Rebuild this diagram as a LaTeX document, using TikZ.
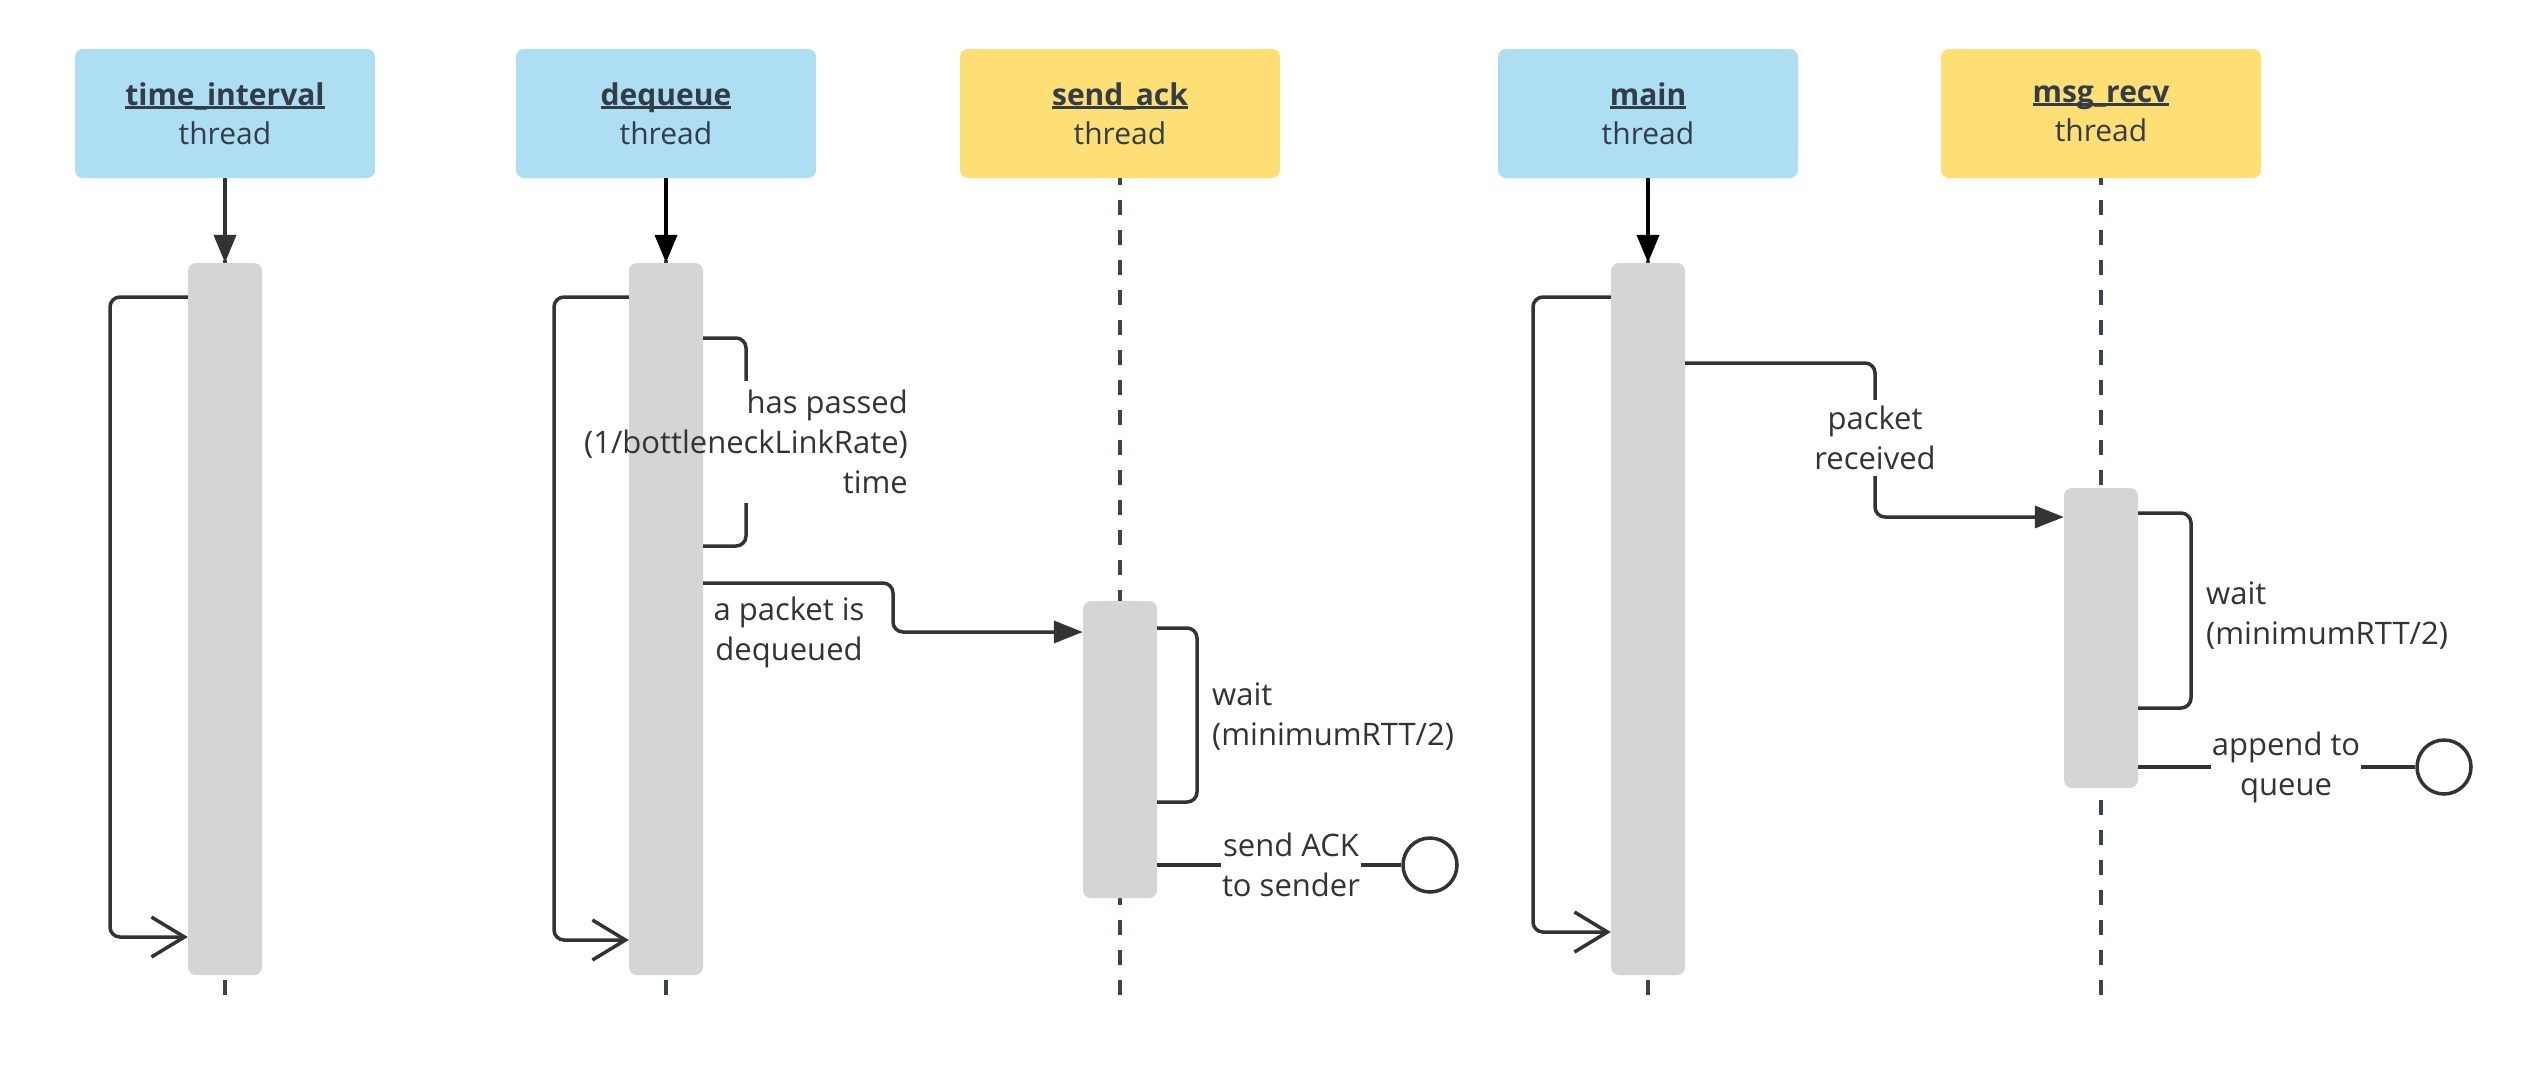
\documentclass[tikz,border=0pt]{standalone}
\usepackage{fontspec}
\setmainfont{Open Sans}
\usetikzlibrary{arrows.meta}
\definecolor{hblue}{HTML}{ADDEF2}
\definecolor{hyellow}{HTML}{FEDF76}
\definecolor{bargray}{HTML}{D5D5D5}
\definecolor{ink}{HTML}{333333}
\definecolor{hdrink}{HTML}{333D47}
\definecolor{lifeink}{HTML}{3A4451}
\newcommand\hul[1]{\setbox0=\hbox{#1}\rlap{\rule[-3.5pt]{\wd0}{2.4pt}}\box0}
\newcommand\hdrfont{\fontsize{30pt}{39pt}\selectfont}
\newcommand\lblfont{\fontsize{31pt}{40pt}\selectfont}
\begin{document}
\begin{tikzpicture}[x=1pt, y=-1pt,
  hdr/.style={rectangle, rounded corners=8pt, minimum height=129pt, align=center, text=hdrink, font=\hdrfont, inner sep=0pt},
  hdrblue/.style={hdr, fill=hblue, minimum width=300pt},
  hdryel/.style={hdr, fill=hyellow, minimum width=320pt},
  actbar/.style={rectangle, fill=bargray, rounded corners=8pt, minimum width=74pt, inner sep=0pt},
  life/.style={draw=lifeink, line width=4pt, dash pattern=on 15pt off 15pt, dash phase=8pt},
  create/.style={line width=4pt, -{Triangle[length=28pt,width=22pt]}},
  msg/.style={draw=ink, line width=3.5pt, rounded corners=10pt},
  sync/.style={msg, -{Triangle[length=29pt,width=22pt]}},
  selfloop/.style={msg, -{Straight Barb[length=33pt,width=40pt]}},
  lbl/.style={font=\lblfont, text=ink, align=center, inner sep=0pt},
  endpt/.style={circle, draw=ink, line width=3.5pt, minimum size=54pt, inner sep=0pt}]
\fill[white] (0,0) rectangle (2548,1080);
\useasboundingbox (0,0) rectangle (2548,1080);

% headers
\node[hdrblue] (hti) at (225,113.5) {\hul{\textbf{time\_interval}}\\thread};
\node[hdrblue] (hdq) at (666,113.5) {\hul{\textbf{dequeue}}\\thread};
\node[hdryel]  (hsa) at (1120,113.5) {\hul{\textbf{send\_ack}}\\thread};
\node[hdrblue] (hmn) at (1648,113.5) {\hul{\textbf{main}}\\thread};
\node[hdryel]  (hmr) at (2101,113.5) {\hul{\textbf{msg\_recv}}\\thread};

% lifeline ends
\coordinate (eti) at (225,1004);
\coordinate (edq) at (666,1004);
\coordinate (esa) at (1120,1004);
\coordinate (emn) at (1648,1004);
\coordinate (emr) at (2101,1004);
\draw[life] (hti.south) -- (eti);
\draw[life] (hdq.south) -- (edq);
\draw[life] (hsa.south) -- (esa);
\draw[life] (hmn.south) -- (emn);
\draw[life] (hmr.south) -- (emr);

% activation bars
\node[actbar, minimum height=712pt] (bti) at (225,619) {};
\node[actbar, minimum height=712pt] (bdq) at (666,619) {};
\node[actbar, minimum height=297pt] (bsa) at (1120,749.5) {};
\node[actbar, minimum height=712pt] (bmn) at (1648,619) {};
\node[actbar, minimum height=300pt] (bmr) at (2101,638) {};

% creation arrows
\draw[create, draw=ink, fill=ink] (hti.south) -- (bti.north);
\draw[create, draw=black, fill=black] (hdq.south) -- (bdq.north);
\draw[create, draw=black, fill=black] (hmn.south) -- (bmn.north);

% loops
\draw[selfloop] (bti.west |- 0,297) -- (110,297) -- (110,937) -- (bti.west |- 0,937);
\draw[selfloop] (bdq.west |- 0,297) -- (554,297) -- (554,940) -- (bdq.west |- 0,940);
\draw[selfloop] (bmn.west |- 0,297) -- (1533,297) -- (1533,932) -- (bmn.west |- 0,932);

% dequeue self message
\node[lbl, align=right, inner ysep=9pt] (lhp) at (746,442) {has passed\\(1/bottleneckLinkRate)\\time};
\draw[msg] (bdq.east |- 0,338) -| (lhp.north);
\draw[msg] (lhp.south) |- (bdq.east |- 0,546);

% dequeue -> send_ack
\node[lbl] (lpd) at (789,632) {a packet is\\dequeued};
\draw[sync] (bdq.east |- 0,583) -- (893,583) -- (893,632) -- (bsa.west |- 0,632);

% send_ack wait
\draw[msg] (bsa.east |- 0,628) -- (1197,628) -- (1197,802) -- (bsa.east |- 0,802);
\node[lbl, anchor=west, align=left] (lw1) at (1212,717) {wait\\(minimumRTT/2)};

% send ACK
\node[lbl, inner xsep=1pt] (lsa) at (1291,865) {send ACK\\to sender};
\node[endpt] (csa) at (1430,865) {};
\draw[msg] (bsa.east |- 0,865) -- (lsa.west);
\draw[msg] (lsa.east) -- (csa.west);

% main -> msg_recv
\node[lbl, inner ysep=6pt] (lpr) at (1875,438) {packet\\received};
\draw[msg] (bmn.east |- 0,363) -| (lpr.north);
\draw[sync] (lpr.south) |- (bmr.west |- 0,517);

% msg_recv wait
\draw[msg] (bmr.east |- 0,513) -- (2191,513) -- (2191,708) -- (bmr.east |- 0,708);
\node[lbl, anchor=west, align=left] (lw2) at (2206,616) {wait\\(minimumRTT/2)};

% append to queue
\node[lbl, inner xsep=1pt] (laq) at (2286,767) {append to\\queue};
\node[endpt] (cmr) at (2444,767) {};
\draw[msg] (bmr.east |- 0,767) -- (laq.west);
\draw[msg] (laq.east) -- (cmr.west);
\end{tikzpicture}
\end{document}
